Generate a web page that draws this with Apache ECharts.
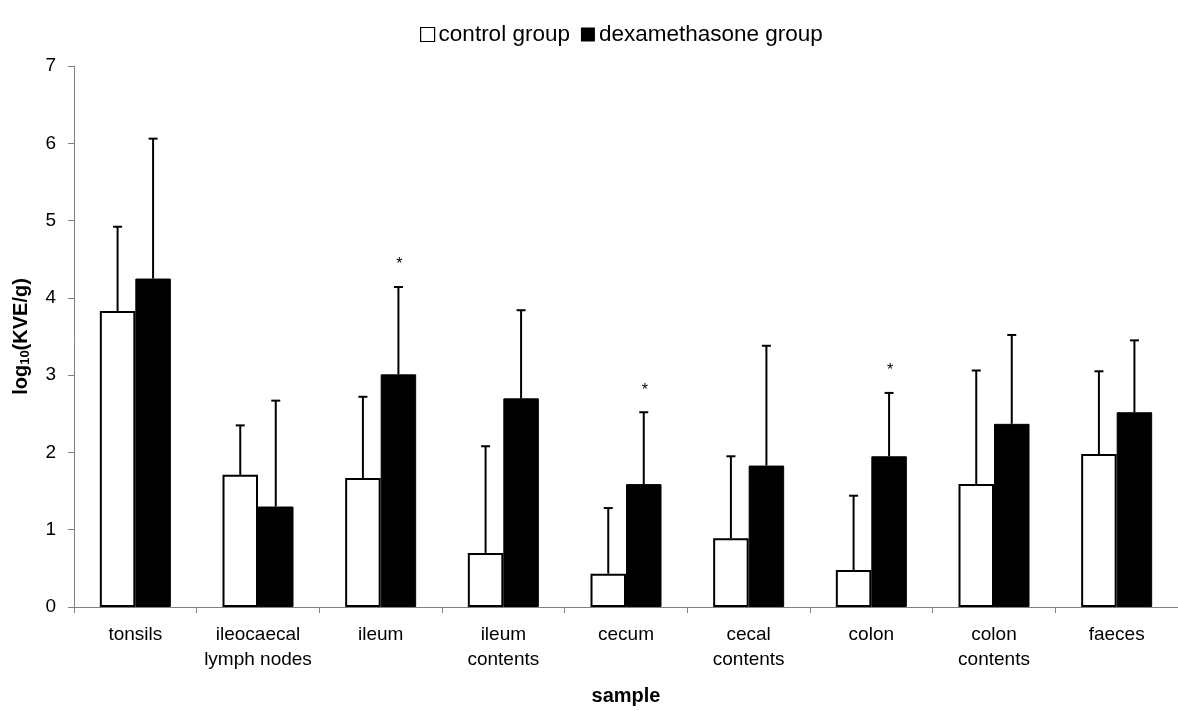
<!DOCTYPE html>
<html>
<head>
<meta charset="utf-8">
<script src="https://cdn.jsdelivr.net/npm/echarts@6/dist/echarts.min.js"></script>
<style>
html,body{margin:0;padding:0;background:#fff;}
#chart{width:1178px;height:711px;}
</style>
</head>
<body>
<div id="chart"></div>
<script>
const categories = ['tonsils', 'ileocaecal\nlymph nodes', 'ileum', 'ileum\ncontents', 'cecum', 'cecal\ncontents', 'colon', 'colon\ncontents', 'faeces'];
const controlMean = [3.83, 1.71, 1.67, 0.70, 0.43, 0.89, 0.48, 1.59, 1.98];
const controlSD   = [1.09, 0.64, 1.05, 1.38, 0.85, 1.06, 0.96, 1.47, 1.07];
const dexMean     = [4.25, 1.30, 3.01, 2.70, 1.59, 1.83, 1.95, 2.37, 2.52];
const dexSD       = [1.81, 1.37, 1.13, 1.14, 0.93, 1.55, 0.82, 1.15, 0.93];
const dexSignificant = [0, 0, 1, 0, 1, 0, 1, 0, 0];
const yTicks = [0, 1, 2, 3, 4, 5, 6, 7];

const FONT = "'Liberation Sans', Arial, Helvetica, sans-serif";
const BAR_W = 35.5;

function errData(means, sds, sig) {
  return means.map((m, i) => [i, m, m + sds[i], sig ? sig[i] : 0]);
}

function makeErrRender(side) {
  return function (params, api) {
    const i = api.value(0);
    const mean = api.value(1);
    const top = api.value(2);
    const sig = api.value(3);
    const p0 = api.coord([i, mean]);
    const p1 = api.coord([i, top]);
    const x = p0[0] + side * BAR_W / 2;
    const style = { stroke: '#000', lineWidth: 2 };
    const children = [
      { type: 'line', shape: { x1: x, y1: p0[1], x2: x, y2: p1[1] }, style: style },
      { type: 'line', shape: { x1: x - 4.5, y1: p1[1], x2: x + 4.5, y2: p1[1] }, style: style }
    ];
    if (sig) {
      children.push({
        type: 'text',
        style: {
          text: '*', x: x + 1, y: p1[1] - 22,
          fill: '#000', font: '16px ' + FONT,
          textAlign: 'center', textVerticalAlign: 'middle'
        }
      });
    }
    return { type: 'group', children: children };
  };
}

const chart = echarts.init(document.getElementById('chart'), null, { renderer: 'canvas' });
chart.setOption({
  animation: false,
  backgroundColor: '#fff',
  textStyle: { fontFamily: FONT, color: '#000' },
  legend: {
    top: 18,
    left: 415,
    itemWidth: 14,
    itemHeight: 14,
    itemGap: 11,
    icon: 'rect',
    textStyle: { fontSize: 22.5, color: '#000', fontFamily: FONT, padding: [0, 0, 0, -1] },
    data: [
      { name: 'control group', itemStyle: { color: '#fff', borderColor: '#000', borderWidth: 1.2 } },
      { name: 'dexamethasone group', itemStyle: { color: '#000', borderColor: '#000', borderWidth: 0 } }
    ]
  },
  grid: { left: 74, top: 66, bottom: 100, width: 1110, containLabel: false },
  xAxis: {
    type: 'category',
    data: categories,
    name: 'sample',
    nameLocation: 'middle',
    nameGap: 79,
    nameTextStyle: { fontSize: 20, fontWeight: 'bold', color: '#000', fontFamily: FONT },
    axisLine: { lineStyle: { color: '#808080', width: 1 } },
    axisTick: { show: true, length: 6, lineStyle: { color: '#808080' } },
    axisLabel: { fontSize: 19, color: '#000', lineHeight: 25, margin: 15, interval: 0, fontFamily: FONT },
    splitLine: { show: false }
  },
  yAxis: {
    type: 'value',
    min: 0,
    max: 7,
    interval: 1,
    name: '{b|log}{s|10}{b|(KVE/g)}',
    nameLocation: 'middle',
    nameRotate: 90,
    nameGap: 42,
    nameTextStyle: {
      rich: {
        b: { fontSize: 20, fontWeight: 'bold', color: '#000', fontFamily: FONT },
        s: { fontSize: 13, fontWeight: 'bold', color: '#000', fontFamily: FONT, padding: [8, 0, 0, 0] }
      }
    },
    axisLine: { show: true, lineStyle: { color: '#808080', width: 1 } },
    axisTick: { show: true, length: 6, lineStyle: { color: '#808080' } },
    axisLabel: {
      fontSize: 19, color: '#000', margin: 18, fontFamily: FONT,
      formatter: function (v) { return yTicks.indexOf(v) >= 0 ? String(v) : ''; }
    },
    splitLine: { show: false }
  },
  series: [
    {
      name: 'control group',
      type: 'bar',
      data: controlMean,
      barWidth: BAR_W,
      barGap: '0%',
      itemStyle: { color: '#fff', borderColor: '#000', borderWidth: 2 },
      z: 2
    },
    {
      name: 'dexamethasone group',
      type: 'bar',
      data: dexMean,
      barWidth: BAR_W,
      barGap: '0%',
      itemStyle: { color: '#000', borderColor: '#000', borderWidth: 1 },
      z: 2
    },
    {
      type: 'custom',
      name: 'control err',
      renderItem: makeErrRender(-1),
      data: errData(controlMean, controlSD),
      encode: { x: 0, y: [1, 2] },
      clip: false,
      z: 3
    },
    {
      type: 'custom',
      name: 'dex err',
      renderItem: makeErrRender(1),
      data: errData(dexMean, dexSD, dexSignificant),
      encode: { x: 0, y: [1, 2] },
      clip: false,
      z: 3
    }
  ]
});
</script>
</body>
</html>
